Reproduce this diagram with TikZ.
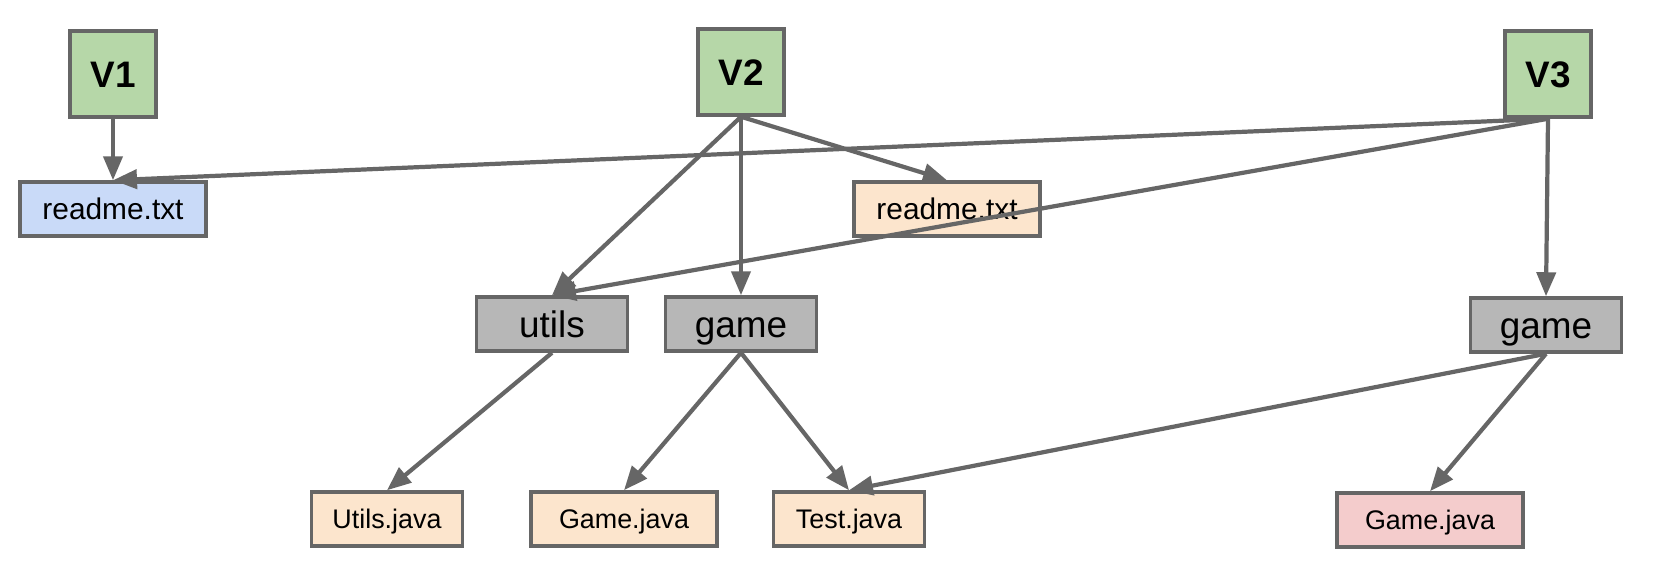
\documentclass[tikz,border=0pt]{standalone}
\usepackage{fontspec}
\setmainfont{Liberation Sans}
\usetikzlibrary{arrows.meta}
\definecolor{vgreen}{HTML}{B6D7A8}
\definecolor{vblue}{HTML}{C9DAF8}
\definecolor{vorange}{HTML}{FCE5CD}
\definecolor{vred}{HTML}{F4CCCC}
\definecolor{vgray}{HTML}{B7B7B7}
\definecolor{vline}{HTML}{666666}

\begin{document}
\begin{tikzpicture}[x=0.02cm,y=-0.02cm,
version/.style={fill=vgreen,minimum width=1.72cm,minimum height=1.72cm,text height=15.1pt,font=\fontsize{21}{25}\selectfont\bfseries},
folder/.style={fill=vgray,minimum width=3.02cm,minimum height=1.08cm,text height=15.1pt,font=\fontsize{21}{25}\selectfont},
file/.style={minimum width=3.02cm,minimum height=1.08cm,text height=11pt,font=\fontsize{15.3}{18}\selectfont},
widefile/.style={file,minimum width=3.72cm},
readme/.style={widefile,text height=12.2pt,font=\fontsize{17}{20}\selectfont}]
\useasboundingbox (0,0) rectangle (1654,578);

\begin{scope}[every node/.style={draw=vline,line width=2pt,inner sep=0pt,text depth=0pt}]
\node[version] (V1) at (113,74) {V1};
\node[version] (V2) at (741,72) {V2};
\node[version] (V3) at (1548,74) {V3};
\node[readme,fill=vblue] (readmeA) at (113,209) {readme.txt};
\node[readme,fill=vorange] (readmeB) at (947,209) {readme.txt};
\node[folder] (utils) at (552,324) {utils};
\node[folder] (gameB) at (741,324) {game};
\node[folder] (gameC) at (1546,325) {game};
\node[file,fill=vorange] (utilsjava) at (387,519) {Utils.java};
\node[widefile,fill=vorange] (gamejavaB) at (624,519) {Game.java};
\node[file,fill=vorange] (testjava) at (849,519) {Test.java};
\node[widefile,fill=vred] (gamejavaC) at (1430,520) {Game.java};
\end{scope}

\begin{scope}[>={Triangle[length=0.48cm,width=0.38cm]},
every edge/.style={draw=vline,line width=2.4pt}]
\path [->] (V1.south) edge (readmeA.north);
\path [->] (V3.south) edge (readmeA.north);
\path [->] (V2.south) edge (readmeB.north);
\path [->] (V2.south) edge (utils.north);
\path [->] (V2.south) edge (gameB.north);
\path [->] (V3.south) edge (utils.north);
\path [->] (V3.south) edge (gameC.north);
\path [->] (utils.south) edge (utilsjava.north);
\path [->] (gameB.south) edge (gamejavaB.north);
\path [->] (gameB.south) edge (testjava.north);
\path [->] (gameC.south) edge (testjava.north);
\path [->] (gameC.south) edge (gamejavaC.north);
\end{scope}
\end{tikzpicture}
\end{document}
